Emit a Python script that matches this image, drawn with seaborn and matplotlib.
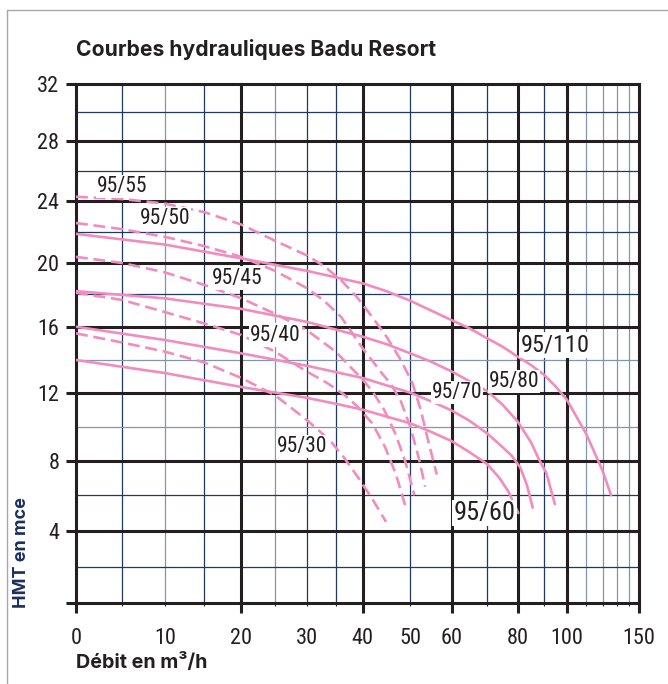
import numpy as np
import pandas as pd
import matplotlib
matplotlib.use("Agg")
import matplotlib.pyplot as plt
import seaborn as sns
from matplotlib.lines import Line2D
from matplotlib import font_manager as fm

# ---------------- data ----------------
q_9530 = [0, 5, 10, 15, 20, 25, 30, 34, 36.5, 39, 42, 44.9]
h_9530 = [15.6, 15.05, 14.5, 13.85, 12.9, 11.85, 10.4, 9.2, 8.2, 7.1, 5.8, 4.5]

q_9540 = [0, 5, 10, 15, 20, 25, 30, 33.5, 36.5, 39, 42, 44.7, 47, 48.9]
h_9540 = [18.1, 17.65, 16.9, 16.2, 15.5, 14.5, 13.3, 12.6, 11.9, 11.2, 10.2, 8.8, 7.2, 5.45]

q_9545 = [0, 5, 10, 15, 20, 25, 30, 35, 40, 42, 44.5, 47, 49, 51]
h_9545 = [20.4, 20.0, 19.4, 18.6, 17.75, 16.8, 15.8, 14.5, 12.8, 12.1, 11.0, 9.5, 7.9, 6.0]

q_9550 = [0, 5, 10, 15, 20, 25, 30, 33, 36, 40, 44, 46, 48, 50, 52, 53.6]
h_9550 = [22.6, 22.2, 21.7, 21.1, 20.4, 19.5, 18.4, 17.6, 16.6, 14.7, 13.2, 12.5, 11.5, 10.0, 8.2, 6.5]

q_9555 = [0, 5, 10, 15, 20, 25, 30, 33, 36, 39, 42, 45, 48, 50.5, 52.5, 54.5, 56.4]
h_9555 = [24.3, 24.15, 23.85, 23.3, 22.5, 21.45, 20.5, 19.8, 18.9, 17.8, 16.6, 15.4, 14.0, 12.6, 11.0, 9.0, 7.2]

q_9560 = [0, 10, 20, 30, 35, 40, 45, 50, 55, 60, 65, 70, 74, 77, 80.2]
h_9560 = [14.0, 13.2, 12.35, 11.7, 11.35, 11.0, 10.6, 10.2, 9.7, 9.15, 8.5, 7.8, 7.0, 6.2, 5.0]

q_9570 = [0, 10, 20, 30, 40, 45, 50, 55, 60, 65, 70, 75, 78, 81, 83.5, 85.7]
h_9570 = [16.0, 15.2, 14.4, 13.65, 12.9, 12.45, 12.0, 11.5, 10.95, 10.35, 9.6, 8.8, 8.3, 7.6, 6.6, 5.3]

q_9580 = [0, 10, 20, 30, 40, 45, 50, 55, 60, 65, 70, 75, 80, 85, 88, 91, 94.8]
h_9580 = [18.2, 17.75, 17.1, 16.3, 15.4, 14.95, 14.4, 13.9, 13.3, 12.7, 12.1, 11.3, 10.3, 9.1, 8.1, 7.3, 5.5]

q_95110 = [0, 10, 20, 30, 40, 45, 50, 55, 60, 65, 70, 75, 80, 85, 90, 95, 100, 105, 110, 115, 120, 126]
h_95110 = [21.9, 21.2, 20.3, 19.5, 18.7, 18.2, 17.6, 17.0, 16.4, 15.9, 15.3, 14.8, 14.2, 13.7, 13.1, 12.4,
           11.6, 10.6, 9.6, 8.5, 7.4, 6.0]

curve_names = ["95/30", "95/40", "95/45", "95/50", "95/55", "95/60", "95/70", "95/80", "95/110"]
curve_kinds = ["dashed"] * 5 + ["solid"] * 4
curve_q = [q_9530, q_9540, q_9545, q_9550, q_9555, q_9560, q_9570, q_9580, q_95110]
curve_h = [h_9530, h_9540, h_9545, h_9550, h_9555, h_9560, h_9570, h_9580, h_95110]

# label anchor (data coords) for each curve name
label_q = [29.3, 25.1, 19.5, 10.0, 5.0, 69.3, 61.5, 78.8, 94.9]
label_h = [8.86, 15.5, 19.04, 22.86, 25.0, 5.0, 12.0, 12.7, 14.9]
label_size = [15.5, 15.5, 15.5, 15.5, 15.5, 19, 15.5, 15.5, 17.5]

x_tick_labels = [0, 10, 20, 30, 40, 50, 60, 80, 100, 150]
y_tick_labels = [0, 4, 8, 12, 16, 20, 24, 28, 32]

title = "Courbes hydrauliques Badu Resort"
xlabel = "Débit en m³/h"
ylabel = "HMT en mce"

# ---------------- build long table ----------------
rows = []
for n, k, qs, hs in zip(curve_names, curve_kinds, curve_q, curve_h):
    for qq, hh in zip(qs, hs):
        rows.append({"curve": n, "kind": k, "q": qq, "h": hh})
df = pd.DataFrame(rows)

# ---------------- style ----------------
sns.set_theme(style="white")
plt.rcParams['font.family'] = ['DejaVu Sans']


def _is_regular(e):
    w = e.weight
    try:
        w = int(w)
    except (TypeError, ValueError):
        w = {"normal": 400, "regular": 400, "book": 400, "medium": 500}.get(str(w).lower(), 700)
    return 380 <= w <= 520 and e.style == "normal"


def pick_condensed():
    ents = fm.fontManager.ttflist
    prefs = ["Roboto Condensed", "Liberation Sans Narrow", "Arial Narrow", "Open Sans Condensed",
             "Noto Sans Condensed", "DejaVu Sans Condensed", "Nimbus Sans Narrow"]
    for p in prefs:
        for e in ents:
            if e.name == p and _is_regular(e):
                return e.fname
    for e in ents:
        if str(e.stretch) in ("condensed", "semi-condensed", "extra-condensed") and _is_regular(e):
            return e.fname
    for e in ents:
        fn = e.fname.lower()
        if ("condensed" in fn or "narrow" in fn) and not any(
                b in fn for b in ("bold", "italic", "oblique", "light", "thin", "black", "semi", "extra")):
            return e.fname
    return None


COND = pick_condensed()
SCALE = 1.0 if COND else 0.8


def cond_fp(size):
    if COND:
        fp = fm.FontProperties(fname=COND)
    else:
        fp = fm.FontProperties(family="DejaVu Sans")
    fp.set_size(size * SCALE)
    return fp


PINK = "#f28cbf"
BLACK = "#231f20"
NAVY = "#1f3864"
LIGHT = "#8496ad"

# non-uniform axis scales of the original chart sheet
XV = [-10, 0, 5, 10, 15, 20, 25, 30, 35, 40, 50, 60, 70, 80, 90, 100, 110, 120, 130, 140, 150, 160]
XP = [-16, 76, 122.3, 165, 204.3, 241.3, 275, 306.7, 335.7, 362.7, 410.3, 451.7, 487.3, 517.7,
      544, 566.7, 586, 602.7, 616.7, 628.7, 639, 649]
YV = [-2, 0, 2, 4, 6, 8, 10, 12, 14, 16, 18, 20, 22, 24, 26, 28, 30, 32, 34]
YP = [-36, 0, 36, 72, 107.4, 142, 176, 210, 242.7, 276, 308.4, 339.7, 370.4, 401.4, 431.7,
      461.7, 490.4, 518.7, 546.7]


def fx(v):
    return np.interp(v, XV, XP)


def fxi(p):
    return np.interp(p, XP, XV)


def fy(v):
    return np.interp(v, YV, YP)


def fyi(p):
    return np.interp(p, YP, YV)


W, H = 668, 684
fig = plt.figure(figsize=(W / 100, H / 100), dpi=100)
ax = fig.add_axes([76 / W, (H - 602.7) / H, (639 - 76) / W, (602.7 - 84) / H])
ax.set_xscale('function', functions=(fx, fxi))
ax.set_yscale('function', functions=(fy, fyi))
ax.set_xlim(0, 150)
ax.set_ylim(0, 32)

# grid
THICK_X = [0, 20, 40, 60, 80, 100, 150]
NAVY_X = [5, 15, 30, 35, 50, 70, 90]
LIGHT_X = [10, 25, 110, 120, 130, 140]
THICK_Y = [0, 4, 8, 12, 16, 20, 24, 28, 32]
NAVY_Y = [2, 6, 18, 22, 26, 30]
LIGHT_Y = [10, 14]
for v in NAVY_X:
    ax.axvline(v, color=NAVY, lw=0.9, zorder=1)
for v in LIGHT_X:
    ax.axvline(v, color=LIGHT, lw=0.9, zorder=1)
for v in NAVY_Y:
    ax.axhline(v, color=NAVY, lw=0.9, zorder=1)
for v in LIGHT_Y:
    ax.axhline(v, color=LIGHT, lw=0.9, zorder=1)
for v in THICK_X:
    ax.axvline(v, color=BLACK, lw=2.2, zorder=2, clip_on=False, solid_capstyle='projecting')
for v in THICK_Y:
    ax.axhline(v, color=BLACK, lw=2.2, zorder=2, clip_on=False, solid_capstyle='projecting')
for s in ax.spines.values():
    s.set_visible(False)

# curves
sns.lineplot(data=df, x="q", y="h", units="curve", style="kind", estimator=None,
             dashes={"solid": "", "dashed": (4.5, 2.2)}, style_order=["solid", "dashed"],
             color=PINK, lw=1.9, sort=False, legend=False, ax=ax, zorder=3)

for n, lq, lh, ls in zip(curve_names, label_q, label_h, label_size):
    ax.text(lq, lh, n, fontproperties=cond_fp(ls), color="#231f20", ha="center", va="center", zorder=5,
            bbox=dict(boxstyle="square,pad=0.05", fc="white", ec="none"))

# ticks
ax.set_xticks(THICK_X)
ax.set_xticklabels([str(v) if v in x_tick_labels else "" for v in THICK_X])
minor_x = sorted(NAVY_X + LIGHT_X)
ax.set_xticks(minor_x, minor=True)
ax.set_xticklabels([str(v) if v in x_tick_labels else "" for v in minor_x], minor=True)
ax.xaxis.remove_overlapping_locs = False
ax.tick_params(axis='x', which='major', bottom=True, length=7, width=2.2, color=BLACK,
               pad=11, labelcolor="#231f20")
ax.tick_params(axis='x', which='minor', bottom=True, length=2.5, width=0.8, color=BLACK,
               pad=15.5, labelcolor="#231f20")
ax.set_yticks(y_tick_labels)
ax.set_yticklabels([str(v) if v != 0 else "" for v in y_tick_labels])
ax.tick_params(axis='y', which='major', left=True, length=7, width=2.2, color=BLACK,
               pad=5, labelcolor="#231f20")
for lab in ax.get_xticklabels(which='both') + ax.get_yticklabels():
    lab.set_fontproperties(cond_fp(16))
ax.set_xlabel("")
ax.set_ylabel("")

# texts
fig.text(76 / W, 1 - 50 / H, title, fontsize=15.2, fontweight="bold", color="#231f20",
         ha="left", va="center", family=["Inter", "DejaVu Sans"])
fig.text(76 / W, 1 - 663 / H, xlabel, fontsize=14.2, fontweight="bold", color="#231f20",
         ha="left", va="center", family=["Inter", "DejaVu Sans"])
fig.text(22 / W, 1 - 553 / H, ylabel, fontsize=13, fontweight="bold", color="#1c2f5e",
         ha="center", va="center", rotation=90, family=["Inter", "DejaVu Sans"])

# outer frame lines of the sheet
fig.add_artist(Line2D([7 / W, 7 / W], [0, 1 - 10 / H], color="#a8a8a8", lw=1.0))
fig.add_artist(Line2D([7 / W, 1], [1 - 10 / H, 1 - 10 / H], color="#a8a8a8", lw=1.0))

fig.savefig("out.png", dpi=100)
